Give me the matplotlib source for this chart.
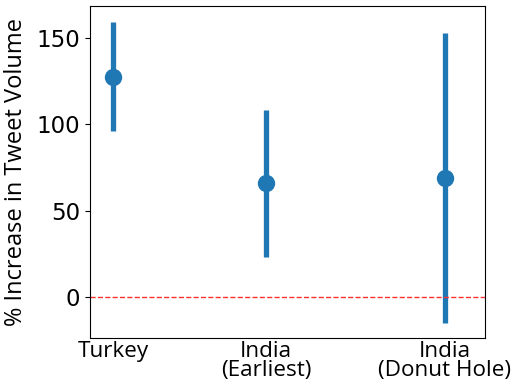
import matplotlib
matplotlib.use("Agg")
import matplotlib.pyplot as plt

# values
labels = ["Turkey", "India\n(Earliest)", "India\n(Donut Hole)"]
xpos = [0, 1, 2.17]
means = [127.6, 66.0, 68.9]
lows = [95.9, 23.2, -15.1]
highs = [159.3, 108.5, 152.9]

fig = plt.figure(figsize=(5.11, 3.92), dpi=100)
ax = fig.add_axes([90 / 511, 1 - 338.3 / 392, 395 / 511, 332.3 / 392])

yerr = [[m - lo for m, lo in zip(means, lows)], [hi - m for m, hi in zip(means, highs)]]
ax.errorbar(xpos, means, yerr=yerr, fmt="o", color="#1f77b4",
            elinewidth=3.8, markersize=11.5, capsize=0)
ax.axhline(0, color="#ff3030", linestyle="--", linewidth=1.0)

ax.set_xlim(-0.153, 2.434)
ax.set_ylim(-24.1, 168.7)
ax.set_yticks([0, 50, 100, 150])
ax.set_xticks(xpos)
ax.set_xticklabels(labels, fontsize=16.2, family="Open Sans", linespacing=0.9)
ax.tick_params(axis="y", labelsize=16.5)
ax.tick_params(axis="x", length=0, pad=2)
ax.set_ylabel("% Increase in Tweet Volume", fontsize=17, family="Open Sans", labelpad=6)

fig.savefig("out.png", dpi=100)
